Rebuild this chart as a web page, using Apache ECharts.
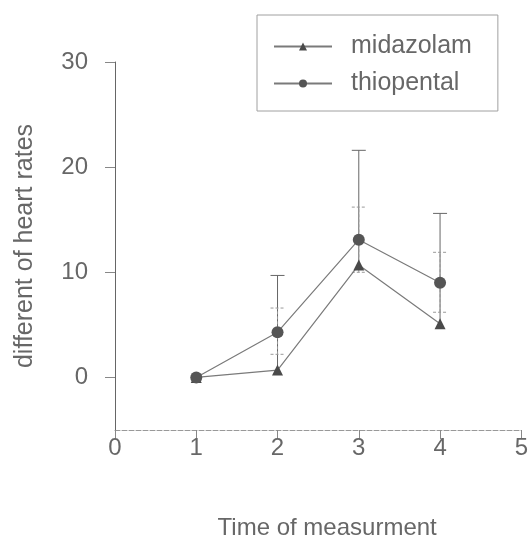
<!DOCTYPE html>
<html>
<head>
<meta charset="utf-8">
<script src="https://cdn.jsdelivr.net/npm/echarts@6/dist/echarts.min.js"></script>
<style>
  html, body { margin: 0; padding: 0; background: #fff; }
  #main { width: 531px; height: 545px; }
</style>
</head>
<body>
<div id="main"></div>
<script>
// measurement times and group means
const times = [1, 2, 3, 4]
const midazolam = [0, 0.7, 10.7, 5.1]
const thiopental = [0, 4.3, 13.1, 9.0]
// error bar ends
const midaUpper = [null, 9.7, 21.6, 15.6]
const thioLow = [null, 2.2, 10.0, 6.2]
const thioHigh = [null, 6.6, 16.2, 11.9]
const yTicks = [0, 10, 20, 30]

const chart = echarts.init(document.getElementById('main'))

const textColor = '#676767'
const lineColor = '#7a7a7a'
const font = 'Liberation Sans'

function errRender(bottomCap, color, dashed) {
  return function (params, api) {
    const x = api.value(0)
    const lo = api.coord([x, api.value(1)])
    const hi = api.coord([x, api.value(2)])
    const w = 7
    const style = { stroke: color, lineWidth: 1, lineDash: dashed ? [3, 2] : null }
    const children = [
      { type: 'line', shape: { x1: lo[0], y1: lo[1], x2: hi[0], y2: hi[1] }, style: style },
      { type: 'line', shape: { x1: hi[0] - w, y1: hi[1], x2: hi[0] + w, y2: hi[1] }, style: style }
    ]
    if (bottomCap) {
      children.push({ type: 'line', shape: { x1: lo[0] - w, y1: lo[1], x2: lo[0] + w, y2: lo[1] }, style: style })
    }
    return { type: 'group', children: children }
  }
}

const midaErr = []
const thioErr = []
times.forEach((t, i) => {
  if (midaUpper[i] != null) midaErr.push([t, midazolam[i], midaUpper[i]])
  if (thioLow[i] != null) thioErr.push([t, thioLow[i], thioHigh[i]])
})

const option = {
  animation: false,
  backgroundColor: '#fff',
  grid: { left: 115, right: 6, top: 62, bottom: 115 },
  legend: {
    orient: 'vertical',
    left: 257,
    top: 15,
    padding: [19, 26, 15, 16],
    itemWidth: 58,
    itemHeight: 10,
    itemGap: 12,
    borderColor: '#a0a0a0',
    borderWidth: 1,
    textStyle: { color: textColor, fontSize: 25, fontFamily: font, padding: [0, 0, 0, 14] },
    data: ['midazolam', 'thiopental']
  },
  xAxis: {
    type: 'value',
    min: 0,
    max: 5,
    interval: 1,
    name: 'Time of measurment',
    nameLocation: 'middle',
    nameGap: 86,
    nameTextStyle: { color: textColor, fontSize: 24, fontFamily: font, padding: [0, 0, 0, 18] },
    axisLine: { onZero: false, lineStyle: { color: '#999', type: [5, 2] } },
    axisTick: { show: true, length: 9, lineStyle: { color: '#888' } },
    axisLabel: { color: textColor, fontSize: 24, margin: 6, fontFamily: font },
    splitLine: { show: false }
  },
  yAxis: {
    type: 'value',
    min: -5,
    max: 30,
    name: 'different of heart rates',
    nameLocation: 'middle',
    nameGap: 77,
    nameRotate: 90,
    nameTextStyle: { color: textColor, fontSize: 25, fontFamily: font },
    axisLine: { show: true, onZero: false, lineStyle: { color: '#666' } },
    axisTick: { show: true, length: 10, customValues: yTicks, lineStyle: { color: '#888' } },
    axisLabel: { color: textColor, fontSize: 24, margin: 27, customValues: yTicks, fontFamily: font },
    splitLine: { show: false }
  },
  series: [
    {
      type: 'custom',
      name: 'midaErr',
      silent: true,
      renderItem: errRender(false, '#666', false),
      data: midaErr,
      z: 1
    },
    {
      type: 'custom',
      name: 'thioErr',
      silent: true,
      renderItem: errRender(true, '#999', true),
      data: thioErr,
      z: 1
    },
    {
      name: 'midazolam',
      type: 'line',
      data: times.map((t, i) => [t, midazolam[i]]),
      symbol: 'triangle',
      symbolSize: 11,
      itemStyle: { color: '#4a4a4a' },
      lineStyle: { color: lineColor, width: 1.2 },
      z: 3
    },
    {
      name: 'thiopental',
      type: 'line',
      data: times.map((t, i) => [t, thiopental[i]]),
      symbol: 'circle',
      symbolSize: 12,
      itemStyle: { color: '#555' },
      lineStyle: { color: lineColor, width: 1.2 },
      z: 3
    }
  ]
}

chart.setOption(option)
</script>
</body>
</html>
